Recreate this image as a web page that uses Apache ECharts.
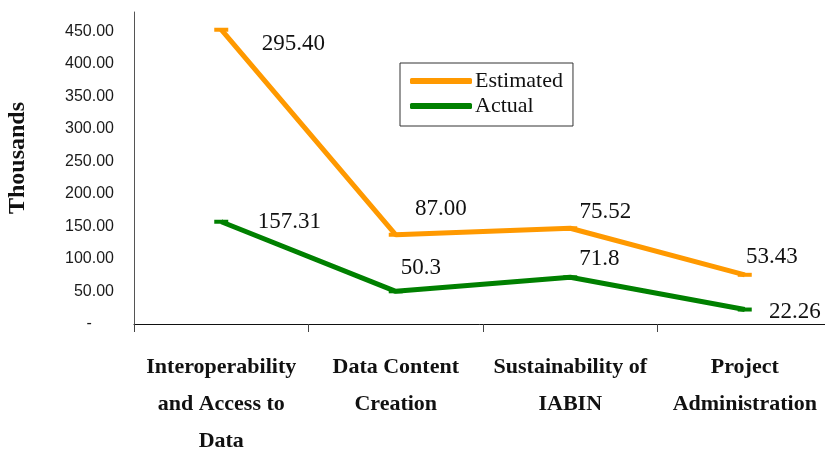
<!DOCTYPE html>
<html>
<head>
<meta charset="utf-8">
<script src="https://cdn.jsdelivr.net/npm/echarts@6/dist/echarts.min.js"></script>
<style>
  html, body { margin: 0; padding: 0; background: #fff; }
  #chart { width: 825px; height: 451px; }
</style>
</head>
<body>
<div id="chart"></div>
<script>
// data
const categories = ['Interoperability\nand Access to\nData', 'Data Content\nCreation', 'Sustainability of\nIABIN', 'Project\nAdministration'];
const actual = [157.31, 50.3, 71.8, 22.26];
const estimated = [295.40, 87.00, 75.52, 53.43];   // stacked on top of actual
const yTicks = [0, 50, 100, 150, 200, 250, 300, 350, 400, 450];

// label offsets (px) for each point
const estOffsets = [[72, 14], [45, -26], [35, -16], [27, -18]];
const actOffsets = [[68, 0], [25, -23], [29, -18], [50, 2]];

const labelFont = { fontFamily: 'Liberation Serif', fontSize: 23, color: '#111' };

const chart = echarts.init(document.getElementById('chart'));

const mkData = (vals, offs) => vals.map((v, i) => ({
    value: v,
    label: { offset: offs[i] }
}));

const option = {
    animation: false,
    grid: { left: 134, right: -7, top: 12, bottom: 127, outerBoundsMode: 'none' },
    legend: {
        data: ['Estimated', 'Actual'],
        orient: 'vertical',
        left: 400, top: 63,
        padding: [7, 10, 9, 10],
        itemGap: 3,
        itemWidth: 62,
        itemHeight: 6,
        icon: 'roundRect',
        borderColor: '#333',
        borderWidth: 1,
        textStyle: { fontFamily: 'Liberation Serif', fontSize: 22, color: '#111', padding: [0, 0, 0, -2] }
    },
    xAxis: {
        type: 'category',
        data: categories,
        boundaryGap: true,
        axisLine: { lineStyle: { color: '#111', width: 1 } },
        axisTick: { show: true, interval: 0, length: 8, lineStyle: { color: '#444', width: 1 } },
        axisLabel: {
            interval: 0,
            margin: 25,
            fontFamily: 'Liberation Serif',
            fontWeight: 'bold',
            fontSize: 22,
            lineHeight: 37,
            color: '#111'
        }
    },
    yAxis: {
        type: 'value',
        min: 0,
        max: 480,
        interval: 50,
        splitLine: { show: false },
        axisLine: { show: true, lineStyle: { color: '#555', width: 1 } },
        axisTick: { show: false },
        axisLabel: {
            margin: 20,
            fontFamily: 'Liberation Sans',
            fontSize: 16,
            color: '#1a1a1a',
            formatter: v => {
                if (yTicks.indexOf(v) < 0) return '';
                return v === 0 ? '-     ' : v.toFixed(2);
            }
        }
    },
    graphic: [{
        type: 'text',
        x: 18, y: 158,
        rotation: Math.PI / 2,
        style: {
            text: 'Thousands',
            fontFamily: 'Liberation Serif',
            fontWeight: 'bold',
            fontSize: 24,
            fill: '#111',
            align: 'center',
            verticalAlign: 'middle'
        }
    }],
    series: [
        {
            name: 'Actual',
            type: 'line',
            stack: 'total',
            data: mkData(actual, actOffsets),
            color: '#008000',
            lineStyle: { width: 5, color: '#008000' },
            symbol: 'rect',
            symbolSize: [14, 4],
            itemStyle: { color: '#008000' },
            label: Object.assign({
                show: true,
                position: 'inside',
                align: 'center',
                verticalAlign: 'middle',
                formatter: p => String(p.value)
            }, labelFont)
        },
        {
            name: 'Estimated',
            type: 'line',
            stack: 'total',
            data: mkData(estimated, estOffsets),
            color: '#FF9900',
            lineStyle: { width: 5, color: '#FF9900' },
            symbol: 'rect',
            symbolSize: [14, 4],
            itemStyle: { color: '#FF9900' },
            label: Object.assign({
                show: true,
                position: 'inside',
                align: 'center',
                verticalAlign: 'middle',
                formatter: p => Number(p.value).toFixed(2)
            }, labelFont)
        }
    ]
};

chart.setOption(option);
</script>
</body>
</html>
